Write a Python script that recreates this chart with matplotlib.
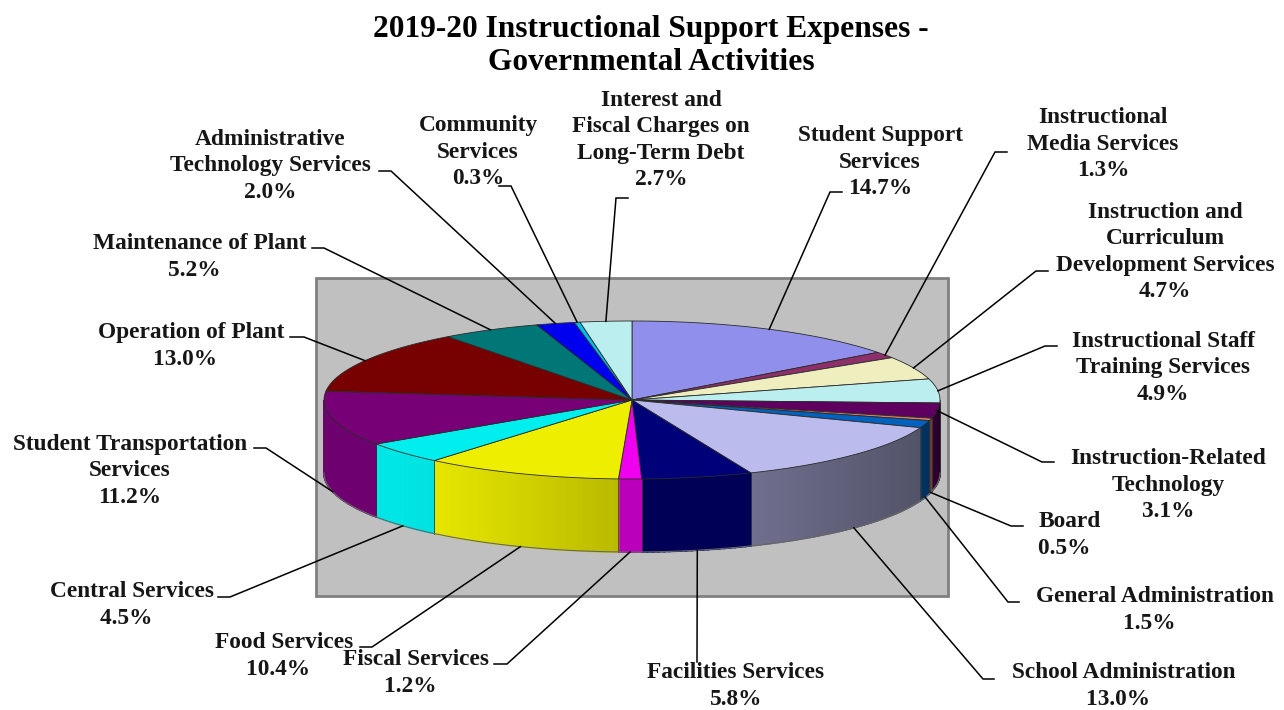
import numpy as np
import matplotlib
matplotlib.use('Agg')
import matplotlib.pyplot as plt
from matplotlib.patches import Rectangle

plt.rcParams['font.family'] = ['Liberation Serif', 'DejaVu Serif']

title = '2019-20 Instructional Support Expenses -\nGovernmental Activities'

names = ['Student Support\nServices', 'Instructional\nMedia Services',
         'Instruction and\nCurriculum\nDevelopment Services',
         'Instructional Staff\nTraining Services',
         'Instruction-Related\nTechnology', 'Board', 'General Administration',
         'School Administration', 'Facilities Services', 'Fiscal Services',
         'Food Services', 'Central Services',
         'Student Transportation\nServices', 'Operation of Plant',
         'Maintenance of Plant', 'Administrative\nTechnology Services',
         'Community\nServices', 'Interest and\nFiscal Charges on\nLong-Term Debt']
values = [14.7, 1.3, 4.7, 4.9, 3.1, 0.5, 1.5, 13.0, 5.8, 1.2, 10.4, 4.5, 11.2,
          13.0, 5.2, 2.0, 0.3, 2.7]
colors = ['#9090EC', '#8E2F6A', '#EEEEBE', '#BBEEEE', '#5F0060', '#E08060',
          '#0062BE', '#BBBBEE', '#000078', '#EE00EE', '#EEEE00', '#00EEEE',
          '#770077', '#770000', '#007777', '#0000EE', '#00BBEE', '#BBEEEE']

# wall shading per slice, left end and right end
shade_l = [1, 1, 1, .6, .5, .5, .5, .60, .72, .78, .97, .97, .93, 1, 1, 1, 1, 1]
shade_r = [1, 1, 1, .6, .42, .5, .5, .44, .72, .78, .78, .95, .93, 1, 1, 1, 1, 1]

# label centre, leader elbow, leader end
label_xy = [(880, 162), (1103, 144), (1165, 252), (1163, 368), (1168, 485),
            (1070, 535), (1155, 610), (1124, 686), (736, 686), (416, 673),
            (284, 656), (132, 605), (130, 471), (191, 346), (200, 257),
            (270, 166), (478, 152), (661, 140)]
elbow = [(830, 192), (995, 152), (1036, 271), (1045, 346), (1042, 462),
         (1011, 526), (1008, 602), (983, 679), (697, 662), (507, 664),
         (372, 647), (230, 597), (266, 448), (304, 337), (324, 248),
         (391, 171), (511, 186), (616, 198)]
stub = [842, 1007, 1048, 1057, 1054, 1023, 1019, 994, 697, 494, 360, 218, 254,
        290, 312, 379, 499, 628]
on_wall = [0, 0, 0, 0, 0, 1, 1, 1, 1, 1, 1, 1, 1, 0, 0, 0, 0, 0]

cx, cy, rx, ry, depth = 632, 400, 308, 79, 73


def rim(th):
    return cx + rx * np.sin(th), cy - ry * np.cos(th)


fig = plt.figure(figsize=(12.84, 7.1), dpi=100)
ax = fig.add_axes([0, 0, 1, 1])
ax.set_xlim(0, 1284)
ax.set_ylim(710, 0)
ax.axis('off')

ax.add_patch(Rectangle((316, 278), 632, 318, fc='#C0C0C0', ec='#808080', lw=2))

edges = np.deg2rad(np.cumsum([0] + values) * 360 / sum(values))

# walls, thin strips so the shade can run from left to right
for i in range(len(values)):
    a, b = max(edges[i], np.pi / 2), min(edges[i + 1], 1.5 * np.pi)
    if b <= a:
        continue
    ts = np.linspace(a, b, max(2, int((b - a) * 60)))
    x0, x1 = min(rim(a)[0], rim(b)[0]), max(rim(a)[0], rim(b)[0])
    rgb = np.array(matplotlib.colors.to_rgb(colors[i]))
    for t0, t1 in zip(ts[:-1], ts[1:]):
        xs = np.array([rim(t0)[0], rim(t1)[0], rim(t1)[0], rim(t0)[0]])
        ys = np.array([rim(t0)[1], rim(t1)[1], rim(t1)[1] + depth, rim(t0)[1] + depth])
        f = (0.5 * (xs[0] + xs[1]) - x0) / max(x1 - x0, 1)
        c = rgb * (shade_l[i] + (shade_r[i] - shade_l[i]) * f)
        ax.fill(xs, ys, color=c, lw=1.2, zorder=2)
    for t in (a, b):
        ax.plot([rim(t)[0]] * 2, [rim(t)[1], rim(t)[1] + depth], color='#333333',
                lw=0.5, alpha=0.7, zorder=3)

ts = np.linspace(np.pi / 2, 1.5 * np.pi, 200)
ax.plot(rim(ts)[0], rim(ts)[1] + depth, color='#666666', lw=0.8, zorder=3)

# top face
for i in range(len(values)):
    ts = np.linspace(edges[i], edges[i + 1], 60)
    px, py = rim(ts)
    ax.fill(np.r_[cx, px], np.r_[cy, py], fc=colors[i], ec='#2A2A2A', lw=0.6,
            zorder=4)

# labels and leaders
for i, (name, val) in enumerate(zip(names, values)):
    mid = 0.5 * (edges[i] + edges[i + 1])
    sx, sy = rim(mid)
    if on_wall[i]:
        sy += depth
    ex, ey = elbow[i]
    ax.plot([sx, ex, stub[i]], [sy, ey, ey], color='black', lw=1.1, zorder=5,
            solid_joinstyle='miter')
    pad = '  ' if '\n' not in name and name != 'Facilities Services' else ''
    ax.text(label_xy[i][0], label_xy[i][1], f'{name}\n{val:.1f}%{pad}', ha='center',
            va='center', fontsize=16.8, fontweight='bold', linespacing=1.35,
            color='#161616', zorder=6)

ax.text(651, 46, title, ha='center', va='center', fontsize=22.6, fontweight='bold',
        linespacing=1.2, color='black')

fig.savefig('out.png', dpi=100)
